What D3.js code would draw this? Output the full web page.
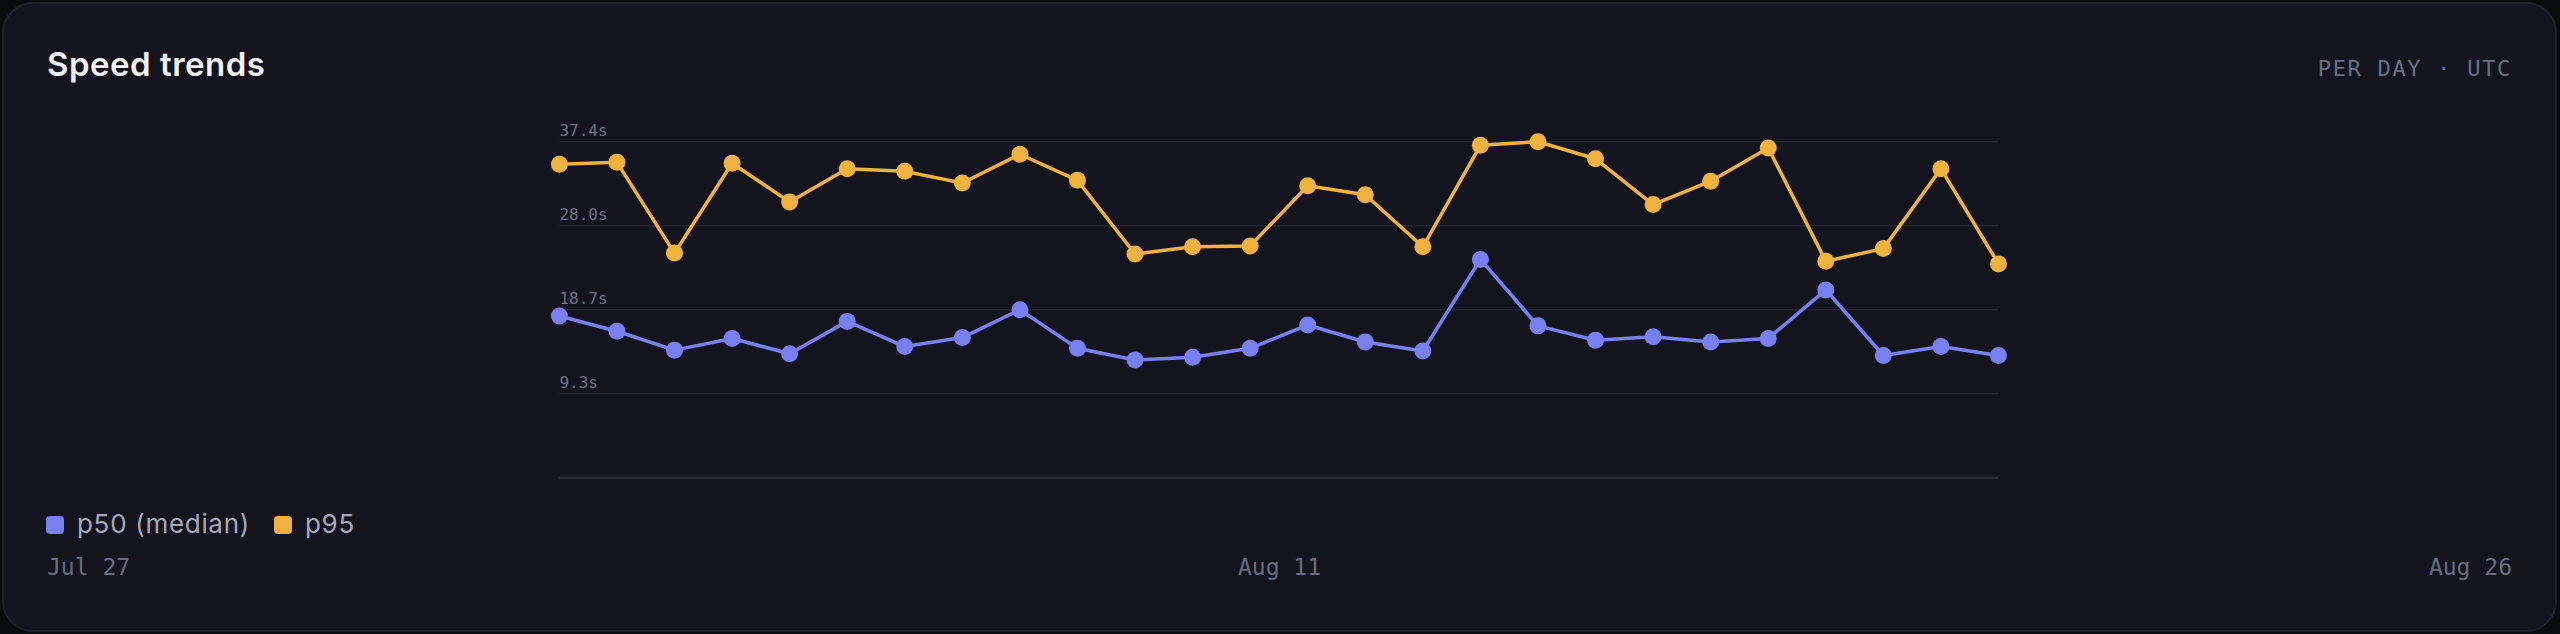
<!DOCTYPE html>
<html>
<head>
<meta charset="utf-8">
<script src="https://cdn.jsdelivr.net/npm/d3@7"></script>
<style>
  html, body { margin: 0; padding: 0; background: #0a0b0f; }
  svg { display: block; }
</style>
</head>
<body>
<svg id="chart"></svg>
<script>
// size of the whole picture
var screenWidth = 2560,
    screenHeight = 634;

// daily values, seconds
var p50 = [18.0, 16.3, 14.2, 15.5, 13.8, 17.4, 14.6, 15.6, 18.7, 14.4, 13.1, 13.4, 14.4,
           17.0, 15.1, 14.1, 24.3, 16.9, 15.3, 15.7, 15.1, 15.5, 20.9, 13.6, 14.6, 13.6];
var p95 = [34.9, 35.1, 25.0, 35.0, 30.7, 34.4, 34.1, 32.8, 36.0, 33.1, 24.9, 25.7, 25.8,
           32.5, 31.5, 25.7, 37.0, 37.4, 35.5, 30.4, 33.0, 36.7, 24.1, 25.5, 34.4, 23.8];

var seriesNames = ["p50 (median)", "p95"];
var dateLabels = ["Jul 27", "Aug 11", "Aug 26"];
var tickFractions = [0.25, 0.5, 0.75, 1];

var colors = {"p50": "#7880ef", "p95": "#efb23f"};

var plot = {"left": 559.4, "right": 1998.5, "top": 141.7, "bottom": 477.7};

var svg = d3.select('#chart')
            .attr('width', screenWidth)
            .attr('height', screenHeight);

// card
svg.append('rect')
   .attr('x', 3).attr('y', 3)
   .attr('width', screenWidth - 7)
   .attr('height', screenHeight - 6)
   .attr('rx', 30)
   .attr('fill', '#13141e')
   .attr('stroke', '#1f212b')
   .attr('stroke-width', 2);

svg.append('text')
   .attr('x', 47).attr('y', 76)
   .attr('font-family', 'Inter, sans-serif')
   .attr('font-weight', 600)
   .attr('font-size', 33)
   .attr('letter-spacing', 0.5)
   .attr('fill', '#f1f1f6')
   .text('Speed trends');

svg.append('text')
   .attr('x', 2512).attr('y', 76)
   .attr('text-anchor', 'end')
   .attr('font-family', '"DejaVu Sans Mono", monospace')
   .attr('font-size', 22)
   .attr('letter-spacing', 1.7)
   .attr('fill', '#6d6f82')
   .text('PER DAY · UTC');

var yMax = d3.max(p95);

var xScale = d3.scaleLinear()
               .domain([0, p50.length - 1])
               .range([plot.left, plot.right]);

var yScale = d3.scaleLinear()
               .domain([0, yMax])
               .range([plot.bottom, plot.top]);

// grid lines + labels
var tickValues = tickFractions.map(function(f) { return yMax * f; });

svg.append('g')
   .selectAll('line')
   .data(tickValues)
   .enter().append('line')
   .attr('x1', plot.left).attr('x2', plot.right)
   .attr('y1', function(d) { return yScale(d); })
   .attr('y2', function(d) { return yScale(d); })
   .attr('stroke', '#22242f')
   .attr('stroke-width', 1.5);

svg.append('line')
   .attr('x1', plot.left).attr('x2', plot.right)
   .attr('y1', yScale(0)).attr('y2', yScale(0))
   .attr('stroke', '#2d2e3b')
   .attr('stroke-width', 2);

svg.append('g')
   .selectAll('text')
   .data(tickValues)
   .enter().append('text')
   .attr('x', plot.left)
   .attr('y', function(d) { return yScale(d) - 6; })
   .attr('font-family', '"DejaVu Sans Mono", monospace')
   .attr('font-size', 16)
   .attr('fill', '#707285')
   .text(function(d) { return d.toFixed(1) + 's'; });

// lines and dots
var line = d3.line()
             .x(function(d, i) { return xScale(i); })
             .y(function(d) { return yScale(d); });

[["p95", p95], ["p50", p50]].forEach(function(s) {
  var g = svg.append('g');
  g.append('path')
   .datum(s[1])
   .attr('d', line)
   .attr('fill', 'none')
   .attr('stroke', colors[s[0]])
   .attr('stroke-width', 3.5)
   .attr('stroke-linejoin', 'round');
  g.selectAll('circle')
   .data(s[1])
   .enter().append('circle')
   .attr('cx', function(d, i) { return xScale(i); })
   .attr('cy', function(d) { return yScale(d); })
   .attr('r', 8.5)
   .attr('fill', colors[s[0]]);
});

// legend
var legend = svg.append('g').attr('transform', 'translate(46,516)');
var legendX = [0, 228];
seriesNames.forEach(function(name, i) {
  var key = i === 0 ? 'p50' : 'p95';
  legend.append('rect')
        .attr('x', legendX[i]).attr('y', 0)
        .attr('width', 18).attr('height', 18)
        .attr('rx', 4)
        .attr('fill', colors[key]);
  legend.append('text')
        .attr('x', legendX[i] + 31).attr('y', 16.5)
        .attr('font-family', 'Inter, sans-serif')
        .attr('font-size', 26)
        .attr('letter-spacing', 0.7)
        .attr('fill', '#a7a9bb')
        .text(name);
});

// date labels along the bottom
var dateScale = d3.scalePoint()
                  .domain(dateLabels)
                  .range([47, 2512]);
var anchors = ['start', 'middle', 'end'];

svg.append('g')
   .selectAll('text')
   .data(dateLabels)
   .enter().append('text')
   .attr('x', function(d) { return dateScale(d); })
   .attr('y', 575)
   .attr('text-anchor', function(d, i) { return anchors[i]; })
   .attr('font-family', '"DejaVu Sans Mono", monospace')
   .attr('font-size', 23)
   .attr('fill', '#6a6c7e')
   .text(function(d) { return d; });
</script>
</body>
</html>
